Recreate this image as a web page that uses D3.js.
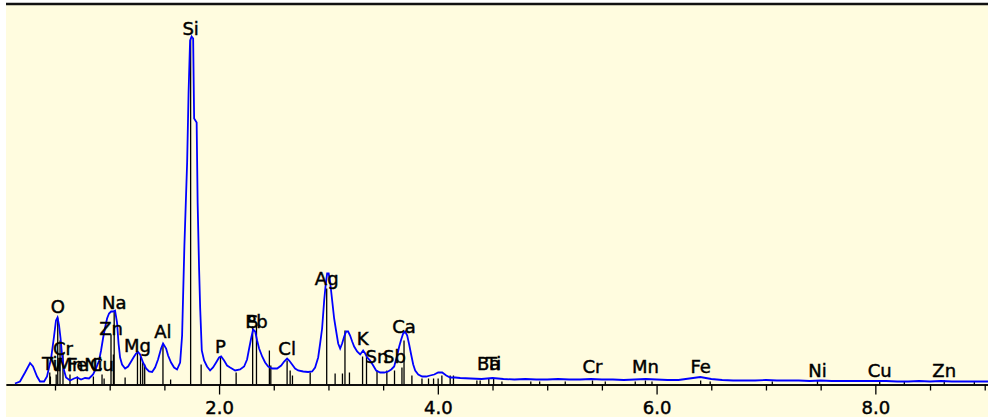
<!DOCTYPE html>
<html><head><meta charset="utf-8">
<script src="https://cdn.jsdelivr.net/npm/d3@7"></script>
<style>html,body{margin:0;padding:0;background:#fff;}svg{display:block;}</style>
</head><body>
<svg id="chart" width="988" height="417"></svg>
<script>
// Spectrum (energy in keV, counts in arbitrary units)
const specEnergy = [0.134,0.180,0.226,0.272,0.299,0.336,0.363,0.400,0.427,0.464,0.491,0.509,0.523,0.537,0.551,0.564,0.583,0.601,0.638,0.674,0.702,0.738,0.775,0.811,0.848,0.875,0.903,0.921,0.939,0.958,0.976,0.994,1.013,1.031,1.049,1.067,1.081,1.095,1.113,1.141,1.168,1.196,1.223,1.241,1.259,1.278,1.305,1.333,1.360,1.388,1.415,1.442,1.470,1.488,1.516,1.534,1.561,1.589,1.616,1.644,1.662,1.683,1.708,1.721,1.735,1.749,1.763,1.772,1.795,1.804,1.817,1.827,1.842,1.863,1.890,1.918,1.945,1.973,2.000,2.019,2.046,2.073,2.101,2.147,2.192,2.229,2.256,2.275,2.293,2.311,2.330,2.348,2.366,2.394,2.421,2.449,2.485,2.531,2.568,2.595,2.622,2.641,2.668,2.695,2.723,2.769,2.814,2.851,2.878,2.906,2.924,2.942,2.961,2.974,2.988,3.002,3.016,3.034,3.052,3.071,3.089,3.107,3.125,3.144,3.162,3.180,3.198,3.217,3.235,3.262,3.290,3.317,3.336,3.354,3.381,3.409,3.436,3.473,3.510,3.546,3.574,3.601,3.628,3.647,3.665,3.683,3.701,3.720,3.738,3.756,3.775,3.793,3.821,3.857,3.894,3.930,3.967,4.003,4.040,4.077,4.113,4.159,4.205,4.3,4.4,4.5,4.6,4.7,4.8,4.9,5.0,5.1,5.2,5.3,5.4,5.5,5.6,5.7,5.8,5.9,6.0,6.1,6.2,6.3,6.4,6.5,6.6,6.7,6.8,6.9,7.0,7.1,7.2,7.3,7.4,7.5,7.6,7.7,7.8,7.9,8.0,8.1,8.2,8.3,8.4,8.5,8.6,8.7,8.8,8.9,9.0,9.03];
const specCounts = [1,3,12,21.5,18,8,3,3,8,26,48,64,67,59,46,30,14,7,4,6,7,5,6.5,6,10,16,24,34,46,57,66,71,73,73,74,62,41,27,20,16,18,23,28,31,32.5,30,22,16,13,12.5,17,25,36,41,36,29,22,17,15,22,49,139,222,291,344,348,346,266,262,182,117,77,34,24,18,14,17,22,27,28,24,19,17,14,15,18,25,36,46,55,53,44,36,28,22,18,16,16,19,23,26,24,20,16,14,13,12.5,13,17,27,41,56,84,99,111,111,102,84,66,53,41,36,41,48,53,53,49,43,38,33,30,34,31,27,24,19,14,12,12,13,15,18,29,38,45,51,53,49,40,30,20,14,10,8,8,9,10,12,12,9,7,7,6.5,6,5.5,6.5,5.5,5,5.5,5,5,5.5,5,5,5.5,5,5,4.5,5,5.5,5,4.5,4.5,6,7.5,5.5,4.5,4,4,4,4.5,4,4,4,3.5,4,3.5,3.5,3.5,3.5,3.5,3.5,3,3,3.5,3,3.5,3,3,3,3,3];

// Element marker lines (energy keV, relative height)
const markerEnergy = [0.452,0.458,0.511,0.525,0.546,0.573,0.637,0.705,0.851,0.930,0.949,1.012,1.034,1.041,1.141,1.254,1.282,1.302,1.320,1.487,1.557,1.740,1.836,2.013,2.156,2.307,2.342,2.460,2.473,2.622,2.650,2.671,2.833,2.984,3.061,3.128,3.151,3.192,3.312,3.348,3.444,3.534,3.604,3.672,3.691,3.763,3.855,3.915,3.961,4.003,4.037,4.113,4.143,4.357,4.387,4.466,4.510,4.586,4.850,4.931,5.165,5.414,5.531,5.805,5.898,5.958,6.403,6.490,7.058,7.471,8.040,8.265,8.630,8.905];
const markerHeight = [12,8,10,67,44,32,10,8,8,10,6,50,30,73,7,33,28,22,20,40,5,346,20,28,12,58,60,34,19,24,14,9,12,96,11,11,54,12,28,28,14,14,14,17,44,9,6,6,6,6,9,9,9,4,4,6,6,3,3,3,3,4,3,3,4,3,4,3,3,4,4,3,4,3];

// Element labels (text, energy keV, label level)
const labelText   = ["Ti","V","Mn","Fe","Ni","Cu","Cr","O","Zn","Na","Mg","Al","Si","P","S","Pb","Cl","Ag","K","Sn","Sb","Ca","Ba","Ti","Cr","Mn","Fe","Ni","Cu","Zn"];
const labelEnergy = [0.452,0.511,0.637,0.705,0.851,0.930,0.573,0.525,1.012,1.041,1.254,1.487,1.740,2.013,2.307,2.342,2.622,2.984,3.312,3.444,3.604,3.691,4.466,4.510,5.414,5.898,6.403,7.471,8.040,8.630];
const labelLevel  = [14.5,13.5,13.5,13.5,13.5,13.5,29.5,71.5,49.5,75.5,33,46.5,349.5,31.5,56.5,56.5,29.5,99.5,39.5,21.5,21.5,51.5,14.5,14.5,11.5,11.5,12,8,8,7.5];

// Axis ticks
const majorTicks = [2.0,4.0,6.0,8.0];
const minorTicks = [0.5,1.0,1.5,2.5,3.0,3.5,4.5,5.0,5.5,6.5,7.0,7.5,8.5,9.0];

const W = 988, H = 417;
const svg = d3.select("#chart");
const x = d3.scaleLinear().domain([0.052, 9.03]).range([6, 988]);
const y = d3.scaleLinear().domain([0, 380]).range([384.5, 4.5]);

svg.append("rect").attr("x",6).attr("y",4).attr("width",W-6).attr("height",H-4).attr("fill","#FFFCDF");
svg.append("line").attr("x1",6).attr("x2",W).attr("y1",4).attr("y2",4).attr("stroke","#111").attr("stroke-width",2.6);

const font = "'DejaVu Sans', Verdana, sans-serif";

// minor ticks
const minorAxis = svg.append("g").attr("transform",`translate(0,${y(0)})`)
  .call(d3.axisBottom(x).tickValues(minorTicks).tickSize(6).tickSizeOuter(0).tickFormat(""));
// major ticks
const majorAxis = svg.append("g").attr("transform",`translate(0,${y(0)})`)
  .call(d3.axisBottom(x).tickValues(majorTicks).tickSize(10).tickSizeOuter(0).tickPadding(7).tickFormat(d3.format(".1f")));
[minorAxis, majorAxis].forEach(g=>{
  g.select(".domain").attr("stroke","#000").attr("stroke-width",1.6);
  g.selectAll(".tick line").attr("stroke","#000").attr("stroke-width",1.3);
});
majorAxis.selectAll(".tick text").attr("fill","#000").attr("stroke","#000").attr("stroke-width",0.45)
  .style("font-family",font).style("font-size","18px");

// markers
const markers = markerEnergy.map((e,i)=>({e, h: markerHeight[i]}));
svg.append("g").selectAll("line").data(markers).join("line")
  .attr("x1",d=>x(d.e)).attr("x2",d=>x(d.e))
  .attr("y1",y(0)).attr("y2",d=>y(d.h))
  .attr("stroke","#000").attr("stroke-width",1.3);

// spectrum
const spec = specEnergy.map((e,i)=>({e, c: specCounts[i]}));
svg.append("path").datum(spec)
  .attr("d", d3.line().x(d=>x(d.e)).y(d=>y(d.c)))
  .attr("fill","none").attr("stroke","#0000FF").attr("stroke-width",1.8).attr("stroke-linejoin","miter");

// labels
const labels = labelText.map((t,i)=>({t, e: labelEnergy[i], l: labelLevel[i]}));
svg.append("g").selectAll("text").data(labels).join("text")
  .attr("x",d=>x(d.e)).attr("y",d=>y(d.l))
  .attr("text-anchor","middle")
  .style("font-family",font).style("font-size","18px").attr("fill","#000")
  .attr("stroke","#000").attr("stroke-width",0.45)
  .text(d=>d.t);
</script>
</body></html>
